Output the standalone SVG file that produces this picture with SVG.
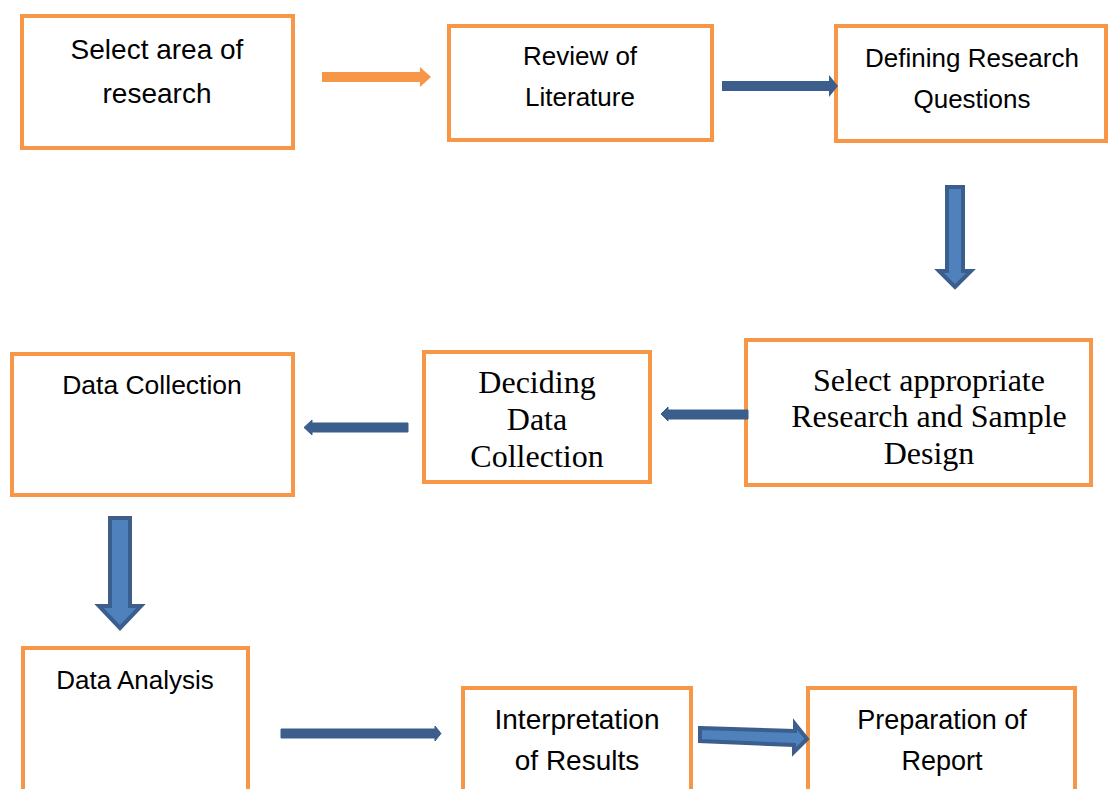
<svg xmlns="http://www.w3.org/2000/svg" width="1109" height="789" viewBox="0 0 1109 789">
<style>
.box{fill:#fff;stroke:#F79646;stroke-width:4}
.s{font-family:"Liberation Sans",Arial,sans-serif;font-size:26px;fill:#000;text-anchor:middle}
.t{font-family:"Liberation Serif","Times New Roman",serif;font-size:32px;fill:#000;text-anchor:middle}
.flat{fill:#3B5E8C}
.fat{fill:#4F81BD;stroke:#3B5E8C;stroke-width:4;stroke-linejoin:miter}
</style>
<rect width="1109" height="789" fill="#fff"/>
<g id="n1"><rect class="box" x="22" y="16" width="271" height="132"/><text class="s" x="157" y="59" style="font-size:28px">Select area of</text><text class="s" x="157" y="103" style="font-size:28px">research</text></g>
<g id="n2"><rect class="box" x="449" y="26" width="263" height="114"/><text class="s" x="580" y="65">Review of</text><text class="s" x="580" y="106">Literature</text></g>
<g id="n3"><rect class="box" x="836" y="26" width="270" height="115"/><text class="s" x="972" y="67">Defining Research</text><text class="s" x="972" y="108">Questions</text></g>
<g id="n4"><rect class="box" x="746" y="340" width="345" height="145"/><text class="t" x="929" y="391">Select appropriate</text><text class="t" x="929" y="427">Research and Sample</text><text class="t" x="929" y="464">Design</text></g>
<g id="n5"><rect class="box" x="424" y="352" width="226" height="130"/><text class="t" x="537" y="393">Deciding</text><text class="t" x="537" y="430">Data</text><text class="t" x="537" y="467">Collection</text></g>
<g id="n6"><rect class="box" x="12" y="354" width="281" height="141"/><text class="s" x="152" y="394" style="font-size:26.5px">Data Collection</text></g>
<g id="n7"><rect class="box" x="23" y="648" width="225" height="150"/><text class="s" x="135" y="689">Data Analysis</text></g>
<g id="n8"><rect class="box" x="463" y="688" width="228" height="110"/><text class="s" x="577" y="729" style="font-size:28px">Interpretation</text><text class="s" x="577" y="770" style="font-size:28px">of Results</text></g>
<g id="n9"><rect class="box" x="808" y="688" width="267" height="110"/><text class="s" x="942" y="729" style="font-size:27px">Preparation of</text><text class="s" x="942" y="770" style="font-size:27px">Report</text></g>
<g id="connectors">
<polygon fill="#F79646" points="322,72 420,72 420,67 431,77 420,87 420,82 322,82"/>
<polygon class="flat" points="722,81 829,81 829,75 838,86 829,97 829,91 722,91"/>
<polygon class="fat" points="947,187 963,187 963,271 971,271 955,287 939,271 947,271"/>
<path class="flat" d="M748,410 L668,410 L668,407 L661,414 L668,421 L668,419 L748,419 Z" stroke="#3B5E8C" stroke-width="1" stroke-linejoin="round"/>
<path class="flat" d="M408,423 L312,423 L312,420 L304,427.5 L312,435 L312,432 L408,432 Z" stroke="#3B5E8C" stroke-width="1" stroke-linejoin="round"/>
<polygon class="fat" points="110,518 130,518 130,606 141,606 120,628 99,606 110,606"/>
<path class="flat" d="M281,729 L435,729 L435,726 L441,733.5 L435,741 L435,738 L281,738 Z" stroke="#3B5E8C" stroke-width="1" stroke-linejoin="round"/>
<polygon class="fat" points="700,728 795,731 795,724 807,739 794,752 794,745 700,741"/>
</g>
</svg>
